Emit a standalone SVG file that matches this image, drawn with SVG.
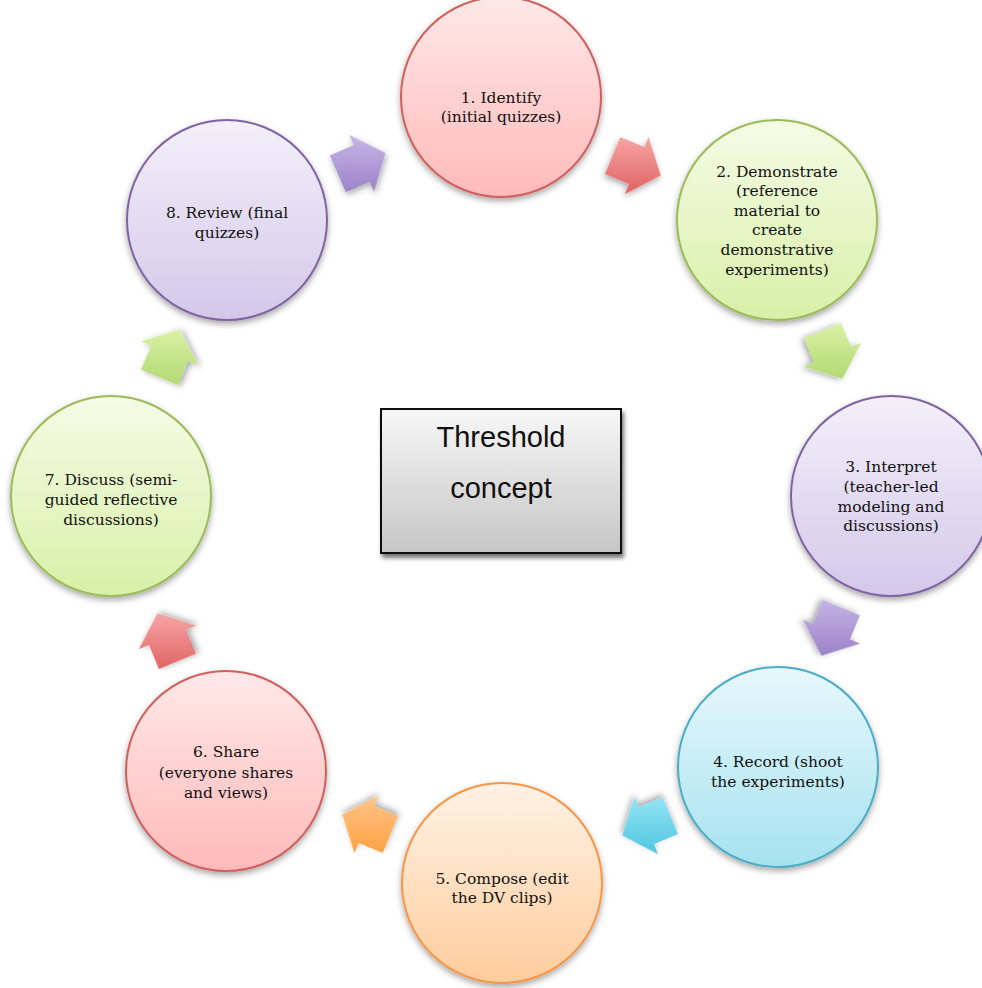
<svg xmlns="http://www.w3.org/2000/svg" width="982" height="988" viewBox="0 0 982 988">
<defs>
<style>
.lbl{font-family:"DejaVu Serif","Liberation Serif",serif;font-size:15.5px;fill:#111;text-anchor:middle}
.ctr{font-family:"Liberation Sans",Arial,sans-serif;font-size:29px;fill:#111;text-anchor:middle}
.node circle{stroke-width:2}
</style>
<filter id="sh" x="-20%" y="-20%" width="140%" height="150%">
<feDropShadow dx="0" dy="3" stdDeviation="3" flood-color="#000" flood-opacity="0.35"/>
</filter>
<filter id="shb" x="-20%" y="-20%" width="140%" height="150%">
<feDropShadow dx="2" dy="4" stdDeviation="2" flood-color="#000" flood-opacity="0.55"/>
</filter>
<linearGradient id="gRed" x1="0" y1="0" x2="0" y2="1"><stop offset="0" stop-color="#ffe8e8"/><stop offset="1" stop-color="#ffbaba"/></linearGradient>
<linearGradient id="gGreen" x1="0" y1="0" x2="0" y2="1"><stop offset="0" stop-color="#f5fbe6"/><stop offset="1" stop-color="#d8f0a8"/></linearGradient>
<linearGradient id="gPurple" x1="0" y1="0" x2="0" y2="1"><stop offset="0" stop-color="#f3f0f9"/><stop offset="1" stop-color="#d4c8ea"/></linearGradient>
<linearGradient id="gBlue" x1="0" y1="0" x2="0" y2="1"><stop offset="0" stop-color="#e8f8fc"/><stop offset="1" stop-color="#a6e2f0"/></linearGradient>
<linearGradient id="gOrange" x1="0" y1="0" x2="0" y2="1"><stop offset="0" stop-color="#fff2e6"/><stop offset="1" stop-color="#ffcc9c"/></linearGradient>
<linearGradient id="gBox" x1="0" y1="0" x2="0" y2="1"><stop offset="0" stop-color="#f7f7f7"/><stop offset="1" stop-color="#c6c6c6"/></linearGradient>
<linearGradient id="a1" gradientUnits="userSpaceOnUse" x1="0" y1="-30" x2="0" y2="30" gradientTransform="rotate(23.5)"><stop offset="0" stop-color="#c6b6e6"/><stop offset="1" stop-color="#9a80c8"/></linearGradient>
<linearGradient id="a2" gradientUnits="userSpaceOnUse" x1="0" y1="-30" x2="0" y2="30" gradientTransform="rotate(-22.5)"><stop offset="0" stop-color="#f8a8a8"/><stop offset="1" stop-color="#e06262"/></linearGradient>
<linearGradient id="a3" gradientUnits="userSpaceOnUse" x1="0" y1="-30" x2="0" y2="30" gradientTransform="rotate(-67.5)"><stop offset="0" stop-color="#dcf2a8"/><stop offset="1" stop-color="#b0d870"/></linearGradient>
<linearGradient id="a4" gradientUnits="userSpaceOnUse" x1="0" y1="-30" x2="0" y2="30" gradientTransform="rotate(-112.5)"><stop offset="0" stop-color="#c6b6e6"/><stop offset="1" stop-color="#9a80c8"/></linearGradient>
<linearGradient id="a5" gradientUnits="userSpaceOnUse" x1="0" y1="-30" x2="0" y2="30" gradientTransform="rotate(-157.5)"><stop offset="0" stop-color="#98e6f6"/><stop offset="1" stop-color="#4ec6e0"/></linearGradient>
<linearGradient id="a6" gradientUnits="userSpaceOnUse" x1="0" y1="-30" x2="0" y2="30" gradientTransform="rotate(157.5)"><stop offset="0" stop-color="#ffc488"/><stop offset="1" stop-color="#ffa040"/></linearGradient>
<linearGradient id="a7" gradientUnits="userSpaceOnUse" x1="0" y1="-30" x2="0" y2="30" gradientTransform="rotate(112.5)"><stop offset="0" stop-color="#f8a8a8"/><stop offset="1" stop-color="#e06262"/></linearGradient>
<linearGradient id="a8" gradientUnits="userSpaceOnUse" x1="0" y1="-30" x2="0" y2="30" gradientTransform="rotate(67.5)"><stop offset="0" stop-color="#dcf2a8"/><stop offset="1" stop-color="#b0d870"/></linearGradient>
<path id="arr" d="M-22,-20 L4,-20 L4,-31 L30,0 L4,31 L4,20 L-22,20 Z"/>
</defs>
<rect width="982" height="988" fill="#fff"/>

<g id="connectors">
<use href="#arr" fill="url(#a1)" filter="url(#sh)" transform="translate(358,165) rotate(-23.5)"/>
<use href="#arr" fill="url(#a2)" filter="url(#sh)" transform="translate(633,164) rotate(22.5)"/>
<use href="#arr" fill="url(#a3)" filter="url(#sh)" transform="translate(831,351) rotate(67.5)"/>
<use href="#arr" fill="url(#a4)" filter="url(#sh)" transform="translate(833,628) rotate(112.5)"/>
<use href="#arr" fill="url(#a5)" filter="url(#sh)" transform="translate(650,824) rotate(157.5)"/>
<use href="#arr" fill="url(#a6)" filter="url(#sh)" transform="translate(370,826) rotate(-157.5)"/>
<use href="#arr" fill="url(#a7)" filter="url(#sh)" transform="translate(169,641) rotate(-112.5)"/>
<use href="#arr" fill="url(#a8)" filter="url(#sh)" transform="translate(168,357) rotate(-67.5)"/>
</g>

<g id="center">
<rect x="381" y="409" width="240" height="144" fill="url(#gBox)" stroke="#111" stroke-width="2" filter="url(#shb)"/>
<text class="ctr" x="501" y="447">Threshold</text>
<text class="ctr" x="501" y="498">concept</text>
</g>

<g id="node1" class="node">
<circle cx="501" cy="97" r="100" fill="url(#gRed)" stroke="#d0605c" filter="url(#sh)"/>
<text class="lbl" x="501" y="103">1. Identify</text>
<text class="lbl" x="501" y="122">(initial quizzes)</text>
</g>
<g id="node2" class="node">
<circle cx="777" cy="220" r="100" fill="url(#gGreen)" stroke="#9bbb59" filter="url(#sh)"/>
<text class="lbl" x="777" y="177">2. Demonstrate</text>
<text class="lbl" x="777" y="196">(reference</text>
<text class="lbl" x="777" y="216">material to</text>
<text class="lbl" x="777" y="235">create</text>
<text class="lbl" x="777" y="255">demonstrative</text>
<text class="lbl" x="777" y="275">experiments)</text>
</g>
<g id="node3" class="node">
<circle cx="891" cy="496" r="100" fill="url(#gPurple)" stroke="#8064a2" filter="url(#sh)"/>
<text class="lbl" x="891" y="472">3. Interpret</text>
<text class="lbl" x="891" y="492">(teacher-led</text>
<text class="lbl" x="891" y="512">modeling and</text>
<text class="lbl" x="891" y="531">discussions)</text>
</g>
<g id="node4" class="node">
<circle cx="778" cy="767" r="100" fill="url(#gBlue)" stroke="#4bacc6" filter="url(#sh)"/>
<text class="lbl" x="778" y="767">4. Record (shoot</text>
<text class="lbl" x="778" y="787">the experiments)</text>
</g>
<g id="node5" class="node">
<circle cx="502" cy="883" r="100" fill="url(#gOrange)" stroke="#f79646" filter="url(#sh)"/>
<text class="lbl" x="502" y="884">5. Compose (edit</text>
<text class="lbl" x="502" y="903">the DV clips)</text>
</g>
<g id="node6" class="node">
<circle cx="226" cy="771" r="100" fill="url(#gRed)" stroke="#d0605c" filter="url(#sh)"/>
<text class="lbl" x="226" y="757">6. Share</text>
<text class="lbl" x="226" y="778">(everyone shares</text>
<text class="lbl" x="226" y="798">and views)</text>
</g>
<g id="node7" class="node">
<circle cx="111" cy="496" r="100" fill="url(#gGreen)" stroke="#9bbb59" filter="url(#sh)"/>
<text class="lbl" x="111" y="485">7. Discuss (semi-</text>
<text class="lbl" x="111" y="505">guided reflective</text>
<text class="lbl" x="111" y="525">discussions)</text>
</g>
<g id="node8" class="node">
<circle cx="227" cy="220" r="100" fill="url(#gPurple)" stroke="#8064a2" filter="url(#sh)"/>
<text class="lbl" x="227" y="218">8. Review (final</text>
<text class="lbl" x="227" y="238">quizzes)</text>
</g>
</svg>
